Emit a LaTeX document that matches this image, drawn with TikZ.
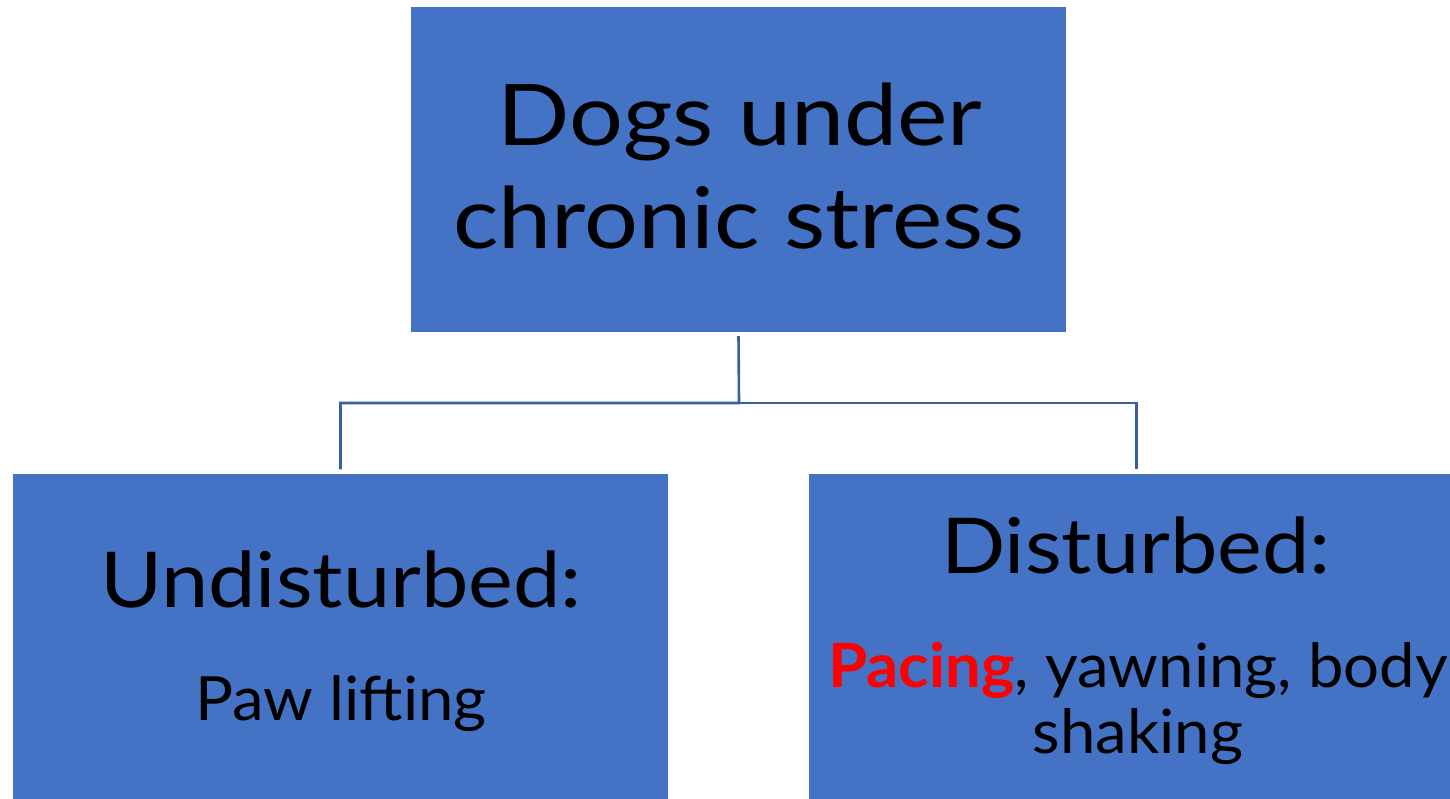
\documentclass[tikz,border=0pt]{standalone}
\usepackage{fontspec}
\setmainfont{Lato}
\definecolor{boxblue}{HTML}{4472C4}
\definecolor{linkblue}{HTML}{3A5EA0}
\definecolor{pacered}{HTML}{FF0000}
\newcommand{\wideA}[1]{\scalebox{1.12}[1]{#1}}
\newcommand{\wideB}[1]{\scalebox{1.10}[1]{#1}}
\newcommand{\wideC}[1]{\scalebox{1.04}[1]{#1}}
\begin{document}
\begin{tikzpicture}[x=1pt,y=-1pt,
  box/.style={fill=boxblue, draw=none, minimum width=655pt, minimum height=325pt, inner sep=0pt},
  big/.style={anchor=base, inner sep=0pt, font=\fontsize{77}{90}\selectfont},
  huge/.style={anchor=base, inner sep=0pt, font=\fontsize{85}{100}\selectfont},
  small/.style={anchor=base, inner sep=0pt, font=\fontsize{61}{70}\selectfont},
  link/.style={draw=linkblue, line width=2.6pt}]
\useasboundingbox (0,0) rectangle (1450,798);
\clip (0,0) rectangle (1450,798);
\node[box] (top) at (738.5,169.5) {};
\node[box] (left) at (340.5,636) {};
\node[box] (right) at (1136.5,636) {};
\node[huge] (t1) at (740,145) {\wideA{Dogs under}};
\node[huge] (t2) at (739,248) {\wideA{chronic stress}};
\node[big] (l1) at (341,607) {\wideB{Undisturbed:}};
\node[small] (l2) at (341,720) {\wideC{Paw lifting}};
\node[big] (r1) at (1136,573) {\wideB{Disturbed:}};
\node[small] (r2) at (1138,687) {\wideC{\textcolor{pacered}{\textbf{Pacing}}, yawning, body}};
\node[small] (r3) at (1138,753) {\wideC{shaking}};
\coordinate (hub) at (739,403);
\draw[link] ([yshift=-4pt]top.south) -- (hub) -| ([yshift=4pt]left.north);
\draw[link] (hub) -| ([yshift=4pt]right.north);
\end{tikzpicture}
\end{document}
